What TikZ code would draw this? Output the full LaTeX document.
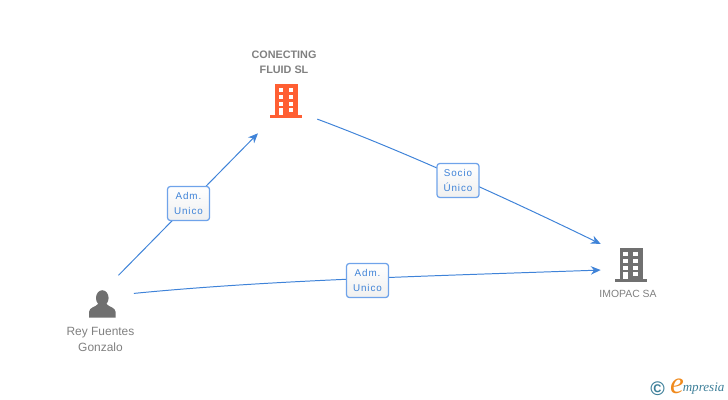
\documentclass[tikz,border=0pt]{standalone}
\usepackage{fontspec}
\setmainfont{Liberation Sans}
\newfontfamily\tagfont[LetterSpace=9]{Liberation Sans}
\newfontfamily\logofont{Liberation Serif}
\usetikzlibrary{arrows.meta}
\definecolor{linkblue}{HTML}{3F83D8}
\definecolor{tagborder}{HTML}{6FA3EA}
\definecolor{icongray}{HTML}{707070}
\definecolor{iconorange}{HTML}{FF5F33}
\definecolor{namegray}{HTML}{808080}
\definecolor{logoteal}{HTML}{3D7F99}
\definecolor{logoorange}{HTML}{F08A1D}
\begin{document}
\begin{tikzpicture}[
        x=0.025cm,
        y=-0.025cm,
        link/.style={
            -{Stealth[length=7pt,width=6pt]},
            line width=0.7pt,
            draw=linkblue
        },
        hub/.style={
            circle,
            inner sep=0pt,
            minimum size=#1
        },
        tag/.style={
            rectangle,
            rounded corners=2pt,
            top color=white,
            bottom color=white!94!black,
            draw=tagborder,
            line width=0.9pt,
            minimum width=1.05cm,
            minimum height=0.85cm,
            inner sep=0pt,
            align=center,
            text=linkblue,
            font=\tagfont\fontsize{7}{10.7}\selectfont
        },
        caption/.style={
            align=center,
            text=namegray,
            inner sep=0pt,
            font=\fontsize{8.5}{11.3}\selectfont
        },
        pics/building/.style={
            code={
                \fill[#1] (-11,-16) rectangle (12,15);
                \fill[#1] (-16,15) rectangle (16,18);
                \foreach \wy in {-12,-5,1.7} {
                    \fill[white] (-7.5,\wy) rectangle +(4.7,4.2);
                    \fill[white] (2.7,\wy) rectangle +(4.7,4.2);
                }
                \fill[white] (-7.5,7.7) rectangle (-2.8,15);
                \fill[white] (2.7,7.7) rectangle (7.4,12.3);
            }
        }
    ]
        \useasboundingbox (0,0) rectangle (728,400);

        % Icons
        \pic at (286,100) {building=iconorange};
        \pic at (630.5,264) {building=icongray};
        \fill[icongray] (102.3,298) ellipse (6.3 and 7.8);
        \fill[icongray] (89,317.7) -- (89,312) .. controls (89.5,307) and (95,307.5) .. (98,304)
            -- (106.5,304) .. controls (109.5,307.5) and (115,307) .. (115.7,312) -- (115.7,317.7) -- cycle;

        % Anchors of the connectors
        \node[hub=1.68cm] (rey) at (102,305) {};
        \node[hub=2.02cm] (conecting) at (281.3,100) {};
        \node[hub=1.59cm] (imopac) at (630,257) {};

        % Connectors
        \draw[link] (rey.61) -- (conecting.-125);
        \draw[link] (conecting.-28) .. controls (400,150) and (500,195) .. (imopac.156);
        \draw[link] (rey.20) .. controls (270,280) and (430,276) .. (imopac.204);

        % Tags
        \node[tag] (admA) at (188.5,203.5) {Adm.\\Unico};
        \node[tag] (socio) at (458,180.5) {Socio\\Único};
        \node[tag] (admB) at (367.5,280.5) {Adm.\\Unico};

        % Names
        \node[caption, font=\bfseries\fontsize{7.7}{10.7}\selectfont] (conectingname) at (284,62.5) {CONECTING\\FLUID SL};
        \node[caption] (reyname) at (100.5,339.5) {Rey Fuentes\\Gonzalo};
        \node[caption, font=\fontsize{7.4}{10}\selectfont] (imopacname) at (628,294) {IMOPAC SA};

        % Logo
        \node[inner sep=0pt, text=logoteal, font=\bfseries\fontsize{14}{14}\selectfont] (copy) at (657.5,388.5) {©};
        \node[inner sep=0pt, text=logoorange, font=\logofont\itshape\fontsize{22}{22}\selectfont] (logoe) at (677,386) {e};
        \node[inner sep=0pt, anchor=west, text=logoteal, font=\logofont\itshape\fontsize{9.3}{10}\selectfont] (logotext) at (682.5,389) {mpresia};
    \end{tikzpicture}
\end{document}
